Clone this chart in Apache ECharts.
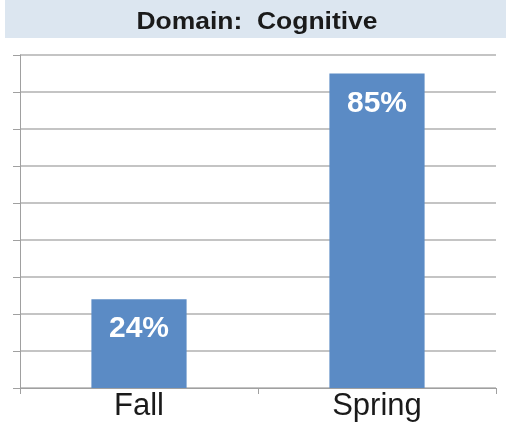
<!DOCTYPE html>
<html>
<head>
<meta charset="utf-8">
<script src="https://cdn.jsdelivr.net/npm/echarts@6/dist/echarts.min.js"></script>
<style>
  html, body { margin: 0; padding: 0; background: #fff; }
  #chart { width: 506px; height: 423px; }
</style>
</head>
<body>
<div id="chart"></div>
<script>
var titleText = "Domain:  Cognitive";
var categories = ["Fall", "Spring"];
var values = [24, 85];

var font = "'Liberation Sans', Arial, sans-serif";
var chart = echarts.init(document.getElementById("chart"));

chart.setOption({
    animation: false,
    graphic: [
        {
            type: "rect",
            shape: { x: 5, y: 0, width: 501, height: 38 },
            style: { fill: "#dce6f0" },
            z: 0
        },
        {
            // title text is a little wider than the font in the original
            type: "text",
            x: 257,
            y: 23,
            scaleX: 1.15,
            style: {
                text: titleText,
                align: "center",
                verticalAlign: "middle",
                font: "bold 23px " + font,
                fill: "#1a1a1a"
            },
            z: 1
        }
    ],
    grid: {
        left: 20,
        right: 10,
        top: 55,
        bottom: 35
    },
    xAxis: {
        type: "category",
        data: categories,
        axisLine: { lineStyle: { color: "#a0a0a0", width: 1 } },
        axisTick: { show: true, length: 6, lineStyle: { color: "#a0a0a0" } },
        axisLabel: {
            margin: 3,
            fontFamily: font,
            fontSize: 31,
            color: "#1a1a1a"
        }
    },
    yAxis: {
        type: "value",
        min: 0,
        max: 90,
        interval: 10,
        axisLine: { show: true, lineStyle: { color: "#a0a0a0" } },
        axisTick: { show: true, length: 7, lineStyle: { color: "#a0a0a0" } },
        axisLabel: { show: false },
        splitLine: { lineStyle: { color: "#b0b0b0", width: 1.5 } }
    },
    series: [
        {
            type: "bar",
            data: values,
            barWidth: "40%",
            itemStyle: { color: "#5b8bc5" },
            label: {
                show: true,
                position: "insideTop",
                distance: 15,
                formatter: "{c}%",
                fontFamily: font,
                fontSize: 30,
                fontWeight: "bold",
                color: "#ffffff"
            }
        }
    ]
});
</script>
</body>
</html>
